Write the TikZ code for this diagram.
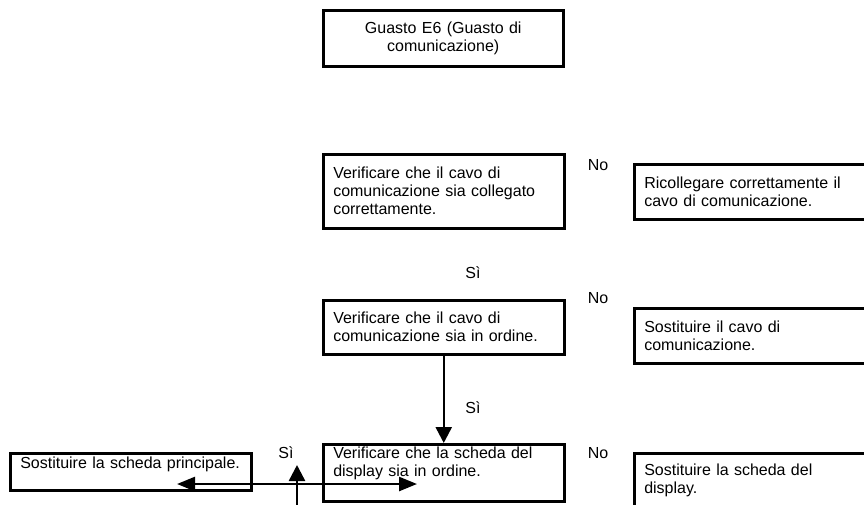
\documentclass[tikz,border=0pt]{standalone}
\usepackage{fontspec}
\setmainfont{Liberation Sans}
\usetikzlibrary{arrows.meta}

\tikzset{
	box/.style={draw, line width=2.5pt, anchor=north west, align=left,
		inner xsep=10pt, inner ysep=0pt, font=\fontsize{16}{18}\selectfont},
	answer/.style={font=\fontsize{16}{18}\selectfont, inner sep=0pt},
	link/.style={line width=2.5pt, -{Triangle[length=16pt, width=16pt]}}
}

\begin{document}
\begin{tikzpicture}[x=1pt, y=-1pt, thick]
	\path[use as bounding box, clip] (0, 0) rectangle (864, 504);

	% main column
	\node[box, align=center, text width=220pt, minimum height=56pt] (fault) at (322, 9) {Guasto E6 (Guasto di\\comunicazione)};
	\node[box, text width=221pt, minimum height=74pt] (plugged) at (322, 153) {Verificare che il cavo di\\comunicazione sia collegato\\correttamente.};
	\node[box, text width=221pt, minimum height=54pt] (cable) at (322, 299) {Verificare che il cavo di\\comunicazione sia in ordine.};
	\node[box, text width=221pt, inner ysep=2pt, text height=12pt, text depth=41pt] (display) at (322, 443) {Verificare che la scheda del\\display sia in ordine.};

	% actions on the right
	\node[box, text width=227pt, minimum height=55pt] (replug) at (633, 163) {Ricollegare correttamente il\\cavo di comunicazione.};
	\node[box, text width=227pt, minimum height=55pt] (newcable) at (633, 307) {Sostituire il cavo di\\comunicazione.};
	\node[box, text width=227pt, minimum height=55pt] (newdisplay) at (633, 452) {Sostituire la scheda del\\display.};

	% action on the left
	\node[box, text width=221pt, inner ysep=3pt, text height=12pt, text depth=19pt] (newmain) at (9, 452) {Sostituire la scheda principale.};

	\node[answer] (no1) at (598, 165) {No};
	\node[answer] (no2) at (598, 298) {No};
	\node[answer] (no3) at (598, 453) {No};
	\node[answer] (si1) at (473, 273) {Sì};
	\node[answer] (si2) at (473, 408) {Sì};
	\node[answer] (si3) at (286, 453) {Sì};

	\draw[link] (cable.south) -- (display.north);

	\coordinate (tipL) at (177, 484);
	\coordinate (tipR) at (417, 484);
	\draw[link, {Triangle[length=18pt, width=14pt]}-{Triangle[length=18pt, width=14pt]}] (tipL) -- (tipR);

	\coordinate (feed) at (297, 512);
	\coordinate (tipU) at (297, 465);
	\draw[link] (feed) -- (tipU);
\end{tikzpicture}
\end{document}
